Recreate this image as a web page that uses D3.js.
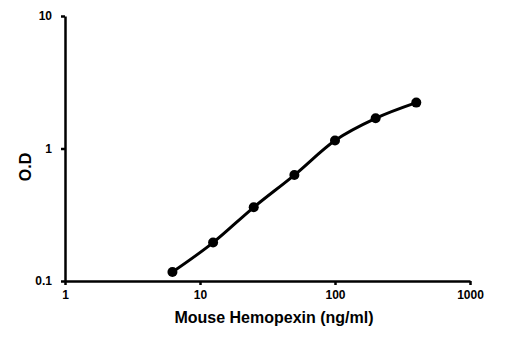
<!DOCTYPE html>
<html lang="en">
<head>
  <meta charset="UTF-8">
  <title>Mouse Hemopexin standard curve</title>
  <style>
    body { margin: 0; background: #ffffff; }
    #chart { width: 507px; height: 351px; }
    text { font-family: "Liberation Sans", Arial, sans-serif; font-weight: bold; fill: #000; }
  </style>
  <script src="https://d3js.org/d3.v7.min.js"></script>
</head>
<body>
<div id="chart"></div>
<script>
  // concentration (ng/ml) and optical density
  var conc = [6.25, 12.5, 25, 50, 100, 200, 400];
  var od = [0.117, 0.195, 0.36, 0.63, 1.15, 1.69, 2.22];
  var xTicks = [1, 10, 100, 1000];
  var yTicks = [0.1, 1, 10];

  var width = 507, height = 351;
  var margin = {left: 65, right: 37, top: 16, bottom: 70};

  var svg = d3.select("#chart").append("svg")
    .attr("width", width)
    .attr("height", height);

  var x = d3.scaleLog().domain([1, 1000]).range([margin.left, width - margin.right]);
  var y = d3.scaleLog().domain([0.1, 10]).range([height - margin.bottom, margin.top]);

  var xAxis = d3.axisBottom(x).tickValues(xTicks).tickFormat(d3.format("d"))
    .tickSizeInner(4).tickSizeOuter(0).tickPadding(5);
  var yAxis = d3.axisLeft(y).tickValues(yTicks).tickFormat(function(d) { return d < 1 ? "0.1" : d; })
    .tickSizeInner(4).tickSizeOuter(0).tickPadding(9);

  var gx = svg.append("g")
    .attr("transform", "translate(0," + y(0.1) + ")")
    .call(xAxis);
  var gy = svg.append("g")
    .attr("transform", "translate(" + x(1) + ",0)")
    .call(yAxis);

  [gx, gy].forEach(function(g) {
    g.select(".domain").attr("stroke", "#000").attr("stroke-width", 2.5);
    g.selectAll(".tick line").attr("stroke", "#000").attr("stroke-width", 2.5);
    g.selectAll(".tick text").style("font-size", "12px").style("font-family", "Liberation Sans, Arial, sans-serif")
      .style("font-weight", "bold");
  });

  var pts = conc.map(function(c, i) { return [c, od[i]]; });

  var line = d3.line()
    .x(function(d) { return x(d[0]); })
    .y(function(d) { return y(d[1]); })
    .curve(d3.curveMonotoneX);

  svg.append("path")
    .datum(pts)
    .attr("d", line)
    .attr("fill", "none")
    .attr("stroke", "#000")
    .attr("stroke-width", 3);

  svg.selectAll("circle.pt")
    .data(pts)
    .enter().append("circle")
    .attr("class", "pt")
    .attr("cx", function(d) { return x(d[0]); })
    .attr("cy", function(d) { return y(d[1]); })
    .attr("r", 5)
    .attr("fill", "#000");

  svg.append("text")
    .attr("x", 274)
    .attr("y", 323)
    .attr("text-anchor", "middle")
    .style("font-size", "16px")
    .text("Mouse Hemopexin (ng/ml)");

  svg.append("text")
    .attr("transform", "translate(31,167) rotate(-90)")
    .attr("text-anchor", "middle")
    .style("font-size", "16px")
    .text("O.D");
</script>
</body>
</html>
